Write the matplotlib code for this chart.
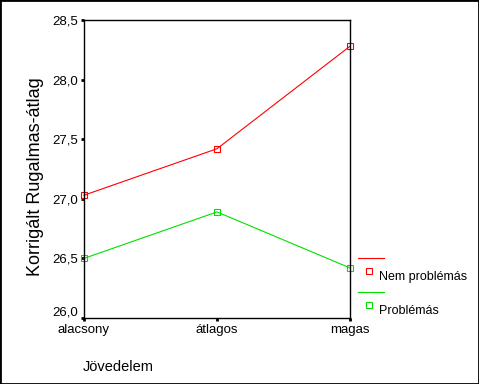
import matplotlib
matplotlib.use("Agg")
import matplotlib.pyplot as plt
import matplotlib.transforms as mtransforms
from matplotlib.lines import Line2D
from matplotlib.patches import Rectangle

categories = ["alacsony", "átlagos", "magas"]
nem_problemas = [27.03, 27.42, 28.28]
problemas = [26.50, 26.89, 26.42]
yticks = [26.0, 26.5, 27.0, 27.5, 28.0, 28.5]

plt.rcParams["font.family"] = ["Liberation Sans", "DejaVu Sans"]

fig = plt.figure(figsize=(4.79, 3.84), dpi=100)
ax = fig.add_axes([84 / 479, 66 / 384, 266 / 479, 298 / 384])

x = range(len(categories))
ax.plot(x, nem_problemas, color="red", lw=0.8, marker="s", ms=5,
        mfc="none", mec="red", mew=0.8, clip_on=False)
ax.plot(x, problemas, color="#00e000", lw=0.8, marker="s", ms=5,
        mfc="none", mec="#00e000", mew=0.8, clip_on=False)

ax.set_xlim(0, 2)
ax.set_ylim(26.0, 28.5)
ax.set_xticks(list(x))
ax.set_xticklabels(categories, fontsize=9.5)
ax.set_yticks(yticks)
ax.set_yticklabels([f"{v:.1f}".replace(".", ",") for v in yticks], fontsize=9.5)
ax.tick_params(direction="out", length=2, width=2, pad=2)
for s in ax.spines.values():
    s.set_linewidth(1)

# lowest y label sits a little above its tick, as in the original
lbl0 = ax.get_yticklabels()[0]
lbl0.set_transform(lbl0.get_transform() +
                   mtransforms.ScaledTranslation(0, 7 / 100, fig.dpi_scale_trans))

fig.text(36 / 479, 1 - 177 / 384, "Korrigált Rugalmas-átlag", rotation=90,
         ha="center", va="center", fontsize=13)
fig.text(83 / 479, 1 - 367 / 384, "Jövedelem", ha="left", va="center",
         fontsize=10.5)

# legend drawn by hand
leg = [("Nem problémás", "red", 258), ("Problémás", "#00e000", 292)]
for label, col, ly in leg:
    fig.add_artist(Line2D([358 / 479, 384 / 479], [1 - ly / 384, 1 - ly / 384],
                          color=col, lw=0.8))
    fig.add_artist(Line2D([369 / 479], [1 - (ly + 13) / 384], marker="s", ms=5,
                          mfc="none", mec=col, mew=0.8, ls="none"))
    fig.text(379 / 479, 1 - (ly + 19) / 384, label, ha="left", va="center",
             fontsize=9)

fig.add_artist(Rectangle((0, 0), 1, 1, transform=fig.transFigure, fill=False,
                         edgecolor="black", lw=2))

fig.savefig("out.png", dpi=100)
